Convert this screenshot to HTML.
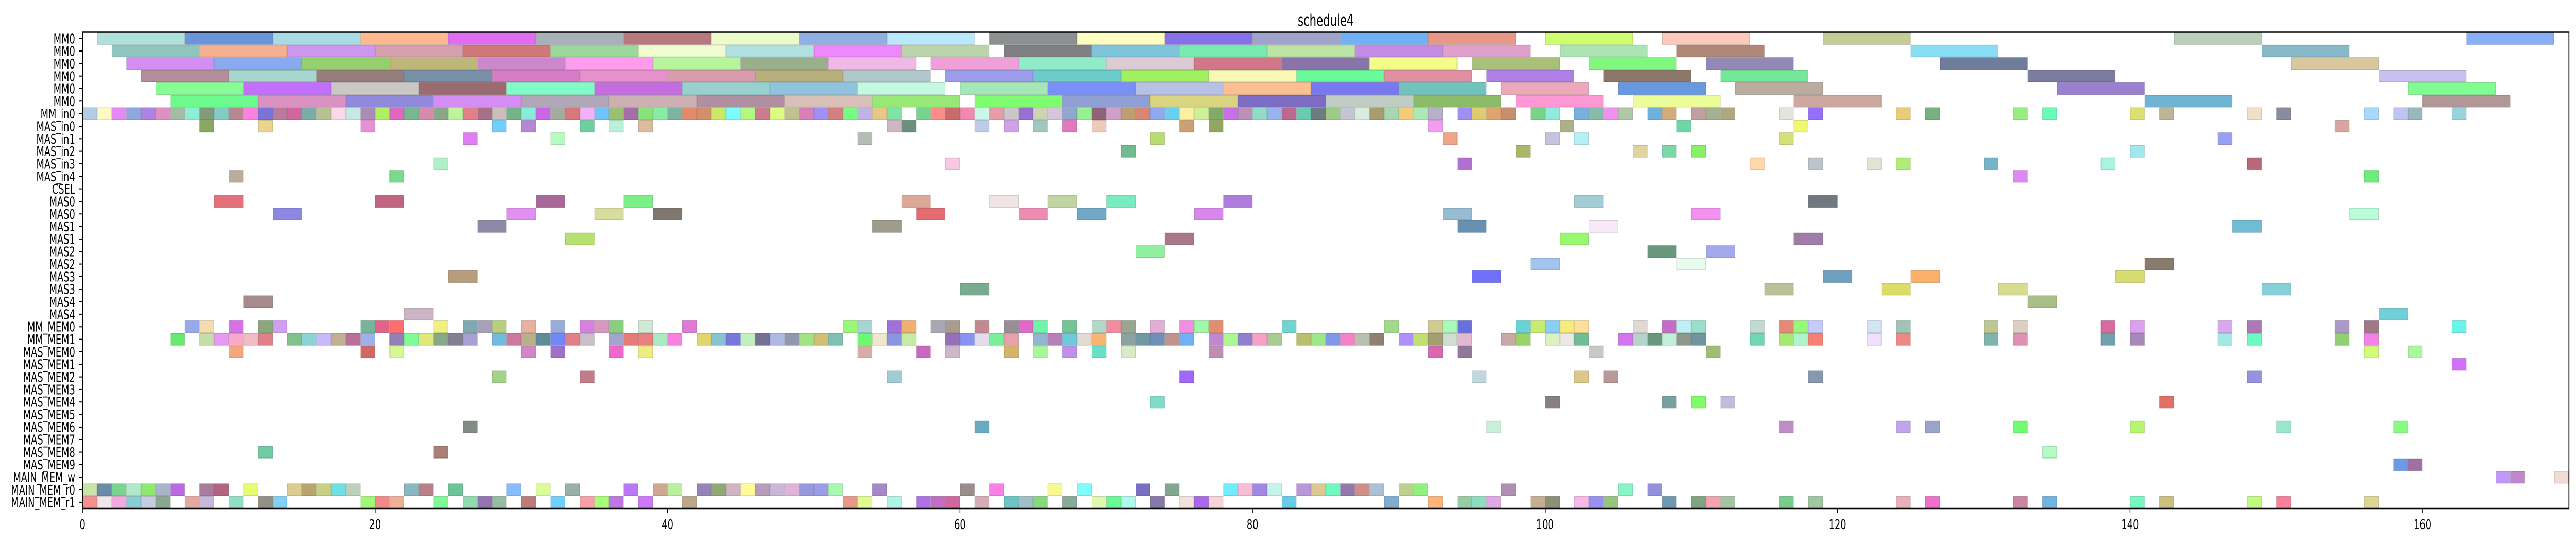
<!DOCTYPE html>
<html><head><meta charset="utf-8"><style>
html,body{margin:0;padding:0;background:#fff;width:100%;height:100%;overflow:hidden;}
svg{display:block;position:absolute;left:0;top:0;width:100vw;height:100vh;}
text{font-family:"DejaVu Sans","Liberation Sans",sans-serif;fill:#000;}
</style></head><body>
<svg id="s" xmlns="http://www.w3.org/2000/svg" viewBox="0 0 7306 1054" preserveAspectRatio="none">
<rect x="0" y="0" width="7306" height="1054" fill="#fff"/>
<g id="bars"></g>
<rect x="234" y="62.5" width="7052" height="924.5" fill="none" stroke="#000" stroke-width="2.5"/>
<g id="ticks" stroke="#000" stroke-width="2"></g>
<text x="3760" y="50" font-size="31" text-anchor="middle">schedule4</text>
<g font-size="26" text-anchor="end">
<text x="213" y="84.3">MM0</text>
<text x="213" y="108.6">MM0</text>
<text x="213" y="132.9">MM0</text>
<text x="213" y="157.3">MM0</text>
<text x="213" y="181.6">MM0</text>
<text x="213" y="205.9">MM0</text>
<text x="213" y="230.2">MM_in0</text>
<text x="213" y="254.5">MAS_in0</text>
<text x="213" y="278.9">MAS_in1</text>
<text x="213" y="303.2">MAS_in2</text>
<text x="213" y="327.5">MAS_in3</text>
<text x="213" y="351.8">MAS_in4</text>
<text x="213" y="376.1">CSEL</text>
<text x="213" y="400.5">MAS0</text>
<text x="213" y="424.8">MAS0</text>
<text x="213" y="449.1">MAS1</text>
<text x="213" y="473.4">MAS1</text>
<text x="213" y="497.7">MAS2</text>
<text x="213" y="522.1">MAS2</text>
<text x="213" y="546.4">MAS3</text>
<text x="213" y="570.7">MAS3</text>
<text x="213" y="595.0">MAS4</text>
<text x="213" y="619.3">MAS4</text>
<text x="213" y="643.7">MM_MEM0</text>
<text x="213" y="668.0">MM_MEM1</text>
<text x="213" y="692.3">MAS_MEM0</text>
<text x="213" y="716.6">MAS_MEM1</text>
<text x="213" y="740.9">MAS_MEM2</text>
<text x="213" y="765.3">MAS_MEM3</text>
<text x="213" y="789.6">MAS_MEM4</text>
<text x="213" y="813.9">MAS_MEM5</text>
<text x="213" y="838.2">MAS_MEM6</text>
<text x="213" y="862.5">MAS_MEM7</text>
<text x="213" y="886.9">MAS_MEM8</text>
<text x="213" y="911.2">MAS_MEM9</text>
<text x="213" y="935.5">MAIN_MEM_w</text>
<text x="213" y="959.8">MAIN_MEM_r0</text>
<text x="213" y="984.1">MAIN_MEM_r1</text>
</g>
<g font-size="26" text-anchor="middle">
<text x="234" y="1027">0</text>
<text x="1063.6" y="1027">20</text>
<text x="1893.2" y="1027">40</text>
<text x="2722.8" y="1027">60</text>
<text x="3552.4" y="1027">80</text>
<text x="4382" y="1027">100</text>
<text x="5211.6" y="1027">120</text>
<text x="6041.2" y="1027">140</text>
<text x="6870.8" y="1027">160</text>
</g>
</svg>
<script>
(function(){
var X0=234,U=41.48,Y0=62.5,H=24.33;
var R=[
"1+6:b0e0dc 7+6:6a94dc 13+6:a8dbe3 19+6:ffb890 25+6:e06cf0 31+6:a8b0b8 37+6:b87880 43+6:ecfcc8 49+6:90b0e4 55+6:b8e8fc 62+6:8c9090 68+6:fefcc0 74+6:8870e8 80+6:a0a4cc 86+6:70b0f8 92+6:e89888 100+6:d0fc70 108+6:fec8bc 119+6:c4cc98 143+6:b8d0b8 163+6:88b0f8",
"2+6:90c5bf 8+6:f5b090 14+6:cc97ee 20+6:d4a0ad 26+6:d07878 32+6:9cd89c 38+6:eefcd0 44+6:b0e0e0 50+6:ee88fc 56+6:bcd4ac 63+6:808084 69+6:80c4dc 75+6:78ecb0 81+6:bce4a4 87+6:c48ce4 93+6:e0a0cc 101+6:ace4b4 109+6:b08878 125+6:88dcf4 149+6:88b8c8",
"3+6:d48ef3 9+6:8aaaf0 15+6:96cf6e 21+6:bfb77a 27+6:cc88cc 33+6:ff9cee 39+6:b8f49c 45+6:98b08c 51+6:f0b8e4 58+6:f0a0d8 64+6:90ecc8 70+6:dccad4 76+6:d07888 82+6:8874a8 88+6:f4fc88 95+6:a8c078 103+6:80f880 111+6:9488b4 127+6:707c9c 151+6:d8c8a0",
"4+6:b48e9b 10+6:a6d6cd 16+6:967e7c 22+6:7890a8 28+6:d87cc8 34+6:e890cc 40+6:d89cac 46+6:b8b07c 52+6:b0c8cc 59+6:9c9cec 65+6:6ccccc 71+6:a0f060 77+6:f8f8b4 83+6:68fc98 89+6:e090a0 96+6:b080e8 104+6:8c7868 112+6:74e898 133+6:7c7ca0 157+6:c8c0f0",
"5+6:88fd96 11+6:c270fb 17+6:cbc7c6 23+6:9a6b70 29+6:80fcc8 35+6:c46ce0 41+6:98d0d0 47+6:90c4dc 53+6:c4f8e0 60+6:a4e8b8 66+6:7890f8 72+6:b8c0e4 78+6:fcc090 84+6:7878f0 90+6:70c4bc 97+6:eea8bc 105+6:6898e0 113+6:bcaca0 135+6:9c80d0 159+6:80fc90",
"6+6:6dfa8c 12+6:da92c3 18+6:9089dc 24+6:d48ef3 30+6:b0a8b8 36+6:ccb0b4 42+6:b090a0 48+6:d8c0b8 54+6:98e878 61+6:80fc70 67+6:90a0d4 73+6:d8d480 79+6:7c6cc4 85+6:c0ccc4 91+6:8cbc68 98+6:fe98d4 106+6:ecfc98 117+6:cca8a0 141+6:70b4d4 160+6:b09898",
"0:b4cbe8 1:fffac0 2:e48af5 3:8ea8dc 4:ac82e2 5:e090c0 6:a4bba4 7:8beed5 8:809c78 9:82cdc4 10:b88890 11:fc82e0 12:7c74d4 13:b97c9c 14:d068a0 15:7aaea4 16:b8c194 17:fbd8e6 18:c4e9e6 19:a98db4 20:aef062 21:e068c0 22:78b890 23:d68bad 24:8aa888 25:c0f49c 26:e08088 27:a87088 28:ccbcbc 29:74b488 30:88ecdc 31:c868e4 32:a4aca0 33:d87878 34:f4b0f8 35:70c4fc 36:9cc070 37:a86ca8 38:88e478 39:88eca4 40:7cb4a0 41:e08c6c 42:d0906c 43:cce868 44:78fcfc 45:b0f880 46:cc7c90 47:dcfc80 48:c0c090 49:d880b8 50:a090f8 51:d48080 52:78fc80 53:c0b4e4 54:e8c888 55:80e4a8 57:74d490 58:fe8c88 59:c86c6c 60:f088b0 61:c8f8e8 62:e89ca8 63:c8c8c8 64:9870d4 65:ccd4b4 66:d8c4dc 67:90a8cc 68:98f090 69:906478 70:d0a0c8 71:bca070 72:d88870 73:90a8f0 74:68d0f0 75:fcf0a0 76:d0f098 77:80ac68 78:c870e8 79:bc90b8 80:90dcc8 81:98b4f0 82:bc6890 83:68ccb0 84:6c7c80 85:9ccc88 86:c4c4d4 87:d8ece0 88:a89c70 89:a8d8b0 90:f4cc78 91:ace8b8 92:b8b0c8 94:a090f4 95:e0cc70 96:e0a470 97:c49070 99:78d488 100:90ecdc 102:78b0e0 103:88bca8 104:f090f0 105:b0c8a8 107:70b0dc 108:d4ac78 110:c0a0a0 111:a4b090 112:b0a880 116:e4e4dc 118:9470fc 124:e8cc78 126:78b080 132:98ec80 134:68fcb8 140:dce070 142:c0b498 148:f0e0c8 150:888c9c 156:a8d8fc 158:c0c4f4 159:98b8bc 162:98d4dc",
"8:8aa860 12:ecd48c 19:e690d8 28:70d0fc 30:b488d4 34:6cd09c 36:b8f0d8 38:dcbc9c 55:ccb8c0 56:6c9080 61:bccce8 63:d0a0e8 65:a0c8c0 67:e478c0 69:eccabc 75:cca070 77:90a860 92:f49cf4 101:b0b088 109:6cd8a8 117:f0f870 154:d8a4a0",
"26:e07cf4 32:b4fcc0 53:b4bcb4 73:b8dc70 93:f0a488 100:c4c4e0 102:b4f0f4 116:d4e078 146:98a0f4",
"71:70bc90 98:a8b868 106:e0d4a0 108:7cd8a8 110:88f068 140:a0e8ec",
"24:b0f0c8 59:f8c8e4 94:b070d0 114:fed8a8 118:bcc4cc 122:e4e4d4 124:b0ec78 130:78b4c8 138:a8f4e0 148:b86878",
"10:bcac9c 21:78dc8c 132:e088f4 156:6cec78",
"",
"9+2:e4707c 20+2:c06480 31+2:a86898 37+2:7cf088 56+2:dca898 62+2:f0e4e4 66+2:c0d4a4 70+2:78ecc0 78+2:b07cdc 102+2:a4ccd4 118+2:707880",
"13+2:8e88e4 29+2:e090f0 35+2:d8dc9c 39+2:807870 57+2:e46c70 64+2:ee8cb4 68+2:70a8c8 76+2:d888ec 93+2:98bcd4 110+2:f490f0 155+2:b8fcd8",
"27+2:9088a8 54+2:a09c8c 94+2:6890b0 103+2:f8e8f8 147+2:70bcd4",
"33+2:b8e070 74+2:a87888 101+2:98f870 117+2:a07ca8",
"72+2:90f0a0 107+2:68987c 111+2:a4a8ec",
"99+2:a4c4f0 109+2:e8fcec 141+2:887c6c",
"25+2:b89c7c 95+2:7070f8 119+2:70a0c0 125+2:fcb068 139+2:d8dc70",
"60+2:78ac90 115+2:bcc098 123+2:dcdc68 131+2:d8dc90 149+2:88d0d8",
"11+2:a68a8c 133+2:a8c088",
"22+2:ccb4c4 157+2:70d0d8",
"7:98a8ec 8:f2dcb0 10:d870e8 12:8aa87c 13:d29ef8 19:76b49c 20:e06488 21:fe6e6e 24:f0f080 26:80a8b0 27:a8a0b8 28:b4d080 30:e8b0a0 32:98acdc 34:d880e0 35:d898c0 36:88d080 38:d0e8d4 41:e078d8 52:98f878 53:a8d4d4 55:a070dc 56:f0b070 58:a8a8b4 59:a89c90 61:c48890 63:988e98 64:e068c8 65:70f4a8 67:74c494 69:b4d8c8 70:f48ca0 71:98a890 73:e0b0d4 75:f090e0 76:a0f8a8 77:e48c70 82:70d4d0 89:a0dc88 92:d0cc90 93:a8fcb8 94:6870dc 98:68d4d8 99:c8ec70 100:88d0f8 101:f8ec80 102:fee098 106:e0d8d4 108:c46cc8 109:bcf0f4 110:98e0cc 114:c0dcd0 116:e48878 117:98f878 118:c4ccfc 122:d4e4f4 124:a0c4b8 130:bcc890 132:dcd0c0 138:d46ca0 140:dca0f0 146:d8a8ec 148:ac78b8 154:ac98c8 156:a07888 162:68f4e8",
"6:66ea6e 8:c4dea8 9:e898f2 10:f9a8c8 11:eebcc4 12:e08088 14:84c08c 15:8ad4d4 16:c8b8fc 17:c0b090 18:b87098 19:a0b0e8 21:9480b4 22:80fc96 23:e2e878 24:88a888 25:808090 26:a8a0d4 28:70bce0 29:cc78a0 30:b8b088 31:608c98 32:7088f8 33:e08088 34:ccc0c8 36:a4a4cc 37:e47c78 38:e88080 39:a8ecc0 40:f880e0 42:e4d46c 43:88c4d0 44:7878dc 45:c0f0c0 46:787094 47:b0b8e4 48:9098b0 49:a0e488 50:d0c070 51:80c0b4 53:6cf870 54:f0e8cc 55:8c94e4 56:c4eca4 59:9870b8 60:8894f4 61:e4dcec 62:78f098 63:e8a0ac 65:94b4d0 66:b880b8 67:70c8dc 68:e0dcd4 69:f8b470 71:8ca4a0 72:7098a0 73:7090b8 74:c0948c 75:70b0f4 77:c088d0 78:acf890 79:9080d0 80:f8a0c8 81:a8cc90 83:b8c070 84:9ce888 85:8098e8 86:f880c4 87:b8c0b0 88:908070 90:b090fc 91:c0e070 92:a0a070 93:d0dcd4 94:e4b8d0 97:c8a8a8 98:98d468 100:dcf0c4 101:ece8e4 102:70bc94 105:d474f0 106:b4d4cc 107:68987c 108:c0f0d8 109:8c988c 110:7094a0 114:70d8b0 116:a4e870 117:b0f4cc 118:f88070 122:f0e0fc 124:ec8888 130:80b4b0 132:e090b4 138:70a0ac 140:a888b8 146:a0e8e4 148:68fcc0 154:90d070 156:f480e8",
"10:f2a87c 19:d06868 21:d4f896 30:d088c4 32:a070c8 36:f068cc 38:f0ec80 53:d4b0a4 57:c868c0 59:ccb8cc 63:d4b468 65:a8f898 67:c090ec 69:68e0c8 71:d8ecc8 77:bc90b0 92:d868b0 94:907898 103:c8c8c4 111:a0bc78 156:d0fc78 159:acf8a0",
"162:d070f8",
"28:a0d488 34:c07c88 55:a0ccd4 75:a068f8 95:c0d8dc 102:dcc888 104:b89898 118:8898b0 148:9890e0",
"",
"73:80dcc8 100:888080 108:78a0a0 110:80fc68 112:c0bcdc 142:e07068",
"",
"26:808c84 61:6aaac0 96:c8f0d8 116:c08cc8 124:c0a4ec 126:98a4cc 132:70fc70 140:b8f470 150:98e8d0 158:88fc80",
"",
"12:6ecca0 24:a88078 134:b4fcc4",
"158:7098e8 159:a070a0",
"165:c098f8 166:c088cc 169:f0dcd4",
"0:c8e4a8 1:6a8ca8 2:78d490 3:b0e8cc 4:90e870 5:a8b4cc 6:bc68e0 8:a87c9c 9:b46480 11:e8fc70 14:dccc90 15:b8a46c 16:c8d088 17:70e0e4 18:bcd0bc 22:88b8c0 23:b88088 25:6cc498 29:88bcfc 31:dcfc98 33:98b0a8 37:b878f8 39:d0a890 40:b8f0a0 42:9484b8 43:90a874 44:d0b4c4 45:fefc98 46:b89cbc 47:c8b8d8 48:e0b4d8 49:9898dc 50:9c9ce8 51:a8f8b4 54:a488c8 60:9c8c8c 62:f880e8 66:f8f890 68:80fcfc 72:7870c0 74:80a890 78:70ecfc 79:f8bcd4 80:a088e4 81:c4f4ec 83:b898d8 84:dcc890 85:70f8c0 86:9478ac 87:cc9088 88:acc0d4 90:bcd090 91:90f080 97:b090b0 105:88f4c8 107:9490dc",
"0:f49090 1:f0e8e8 2:f4a8e0 3:8accd4 4:c8cce0 5:88a890 7:e4a8a0 8:c8b8dc 10:90e0c4 12:949088 13:80d0f8 19:a0f878 20:f48888 21:f0b098 24:80f898 26:90dcb0 27:9474b0 28:98bca0 30:bc7c7c 32:70d0fc 34:f8a0a8 35:a8fc78 36:bc78e0 38:cc78f8 41:bca888 52:e89888 53:e0fc90 55:b0f4e8 57:b070e8 58:c070c0 59:d068a0 61:d8acb4 63:6cc4c4 64:a0c0c8 65:88d880 67:88a898 69:e0f8b0 70:6cf898 71:b0f8ec 73:8878a8 75:f4e0dc 76:a868e8 77:f8d4d8 82:68cce8 89:80acd0 92:fcb478 94:98cca4 95:90dcc0 96:e0a8e4 99:c4b090 100:8c9078 102:f8b8e8 103:9890f0 104:98c480 108:7098b0 110:80a480 111:f4a4b0 112:a4c4a4 116:78cc8c 118:a0c8a0 124:e8b0bc 126:f070cc 132:cc84a4 134:70b4e0 140:78f8c0 142:ccc080 148:c0fc80 150:f88098 156:dcd894"
];
function dark(c){var n=parseInt(c,16),r=(n>>16)&255,g=(n>>8)&255,b=n&255;
 var f=0.8;return "rgb("+Math.round(r*f)+","+Math.round(g*f)+","+Math.round(b*f)+")";}
var out=[];
for(var i=0;i<R.length;i++){
 if(!R[i])continue;
 var t=R[i].split(" ");
 for(var j=0;j<t.length;j++){
  var p=t[j].split(":"),c=p[1],s,l;
  if(p[0].indexOf("+")>=0){var q=p[0].split("+");s=+q[0];l=+q[1];}else{s=+p[0];l=1;}
  var x=X0+s*U,w=l*U,y=Y0+i*H;
  if(x+w>7286)w=7286-x;
  out.push('<rect x="'+(x+0.75).toFixed(1)+'" y="'+(y+0.75).toFixed(1)+'" width="'+(w-1.5).toFixed(1)+'" height="'+(H-1.5).toFixed(1)+'" fill="#'+c+'" stroke="'+dark(c)+'" stroke-width="1.5" stroke-opacity="0.7"/>');
 }
}
document.getElementById("bars").innerHTML=out.join("");
var tk=[];
for(var k=0;k<38;k++){var yy=Y0+(k+0.5)*H;tk.push('<line x1="225" y1="'+yy.toFixed(1)+'" x2="234" y2="'+yy.toFixed(1)+'"/>');}
for(var m=0;m<=160;m+=20){var xx=X0+m*U;tk.push('<line x1="'+xx.toFixed(1)+'" y1="987" x2="'+xx.toFixed(1)+'" y2="996"/>');}
document.getElementById("ticks").innerHTML=tk.join("");
})();
</script>
</body></html>
